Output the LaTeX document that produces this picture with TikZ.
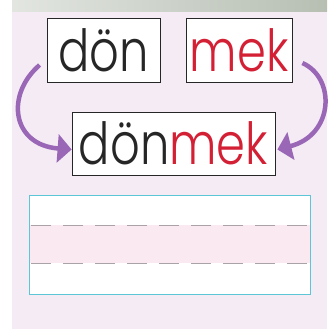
\documentclass[tikz,border=0pt]{standalone}
\usepackage{fontspec}
\setmainfont{Poppins}[UprightFont=* Light, FakeStretch=0.8]
\usepackage{xcolor}
\usepackage{tikz}
\usetikzlibrary{arrows.meta}

\definecolor{panelbg}{HTML}{F4EBF4}
\definecolor{photogray}{HTML}{B7BFB3}
\definecolor{wordred}{HTML}{D42035}
\definecolor{arrowpurple}{HTML}{9A67B7}
\definecolor{linecyan}{HTML}{5CC6D6}
\definecolor{bandpink}{HTML}{FBE9F1}
\definecolor{dashgray}{HTML}{A9A2A6}

\begin{document}
\begin{tikzpicture}[
  x=1pt, y=-1pt,
  word/.style={draw=black!85, line width=0.8pt, fill=white, inner sep=0pt,
    font=\fontsize{58}{58}\selectfont, text=black!85},
  joinarrow/.style={draw=arrowpurple, line width=4.5pt,
    -{Triangle[length=14pt,width=28pt]}},
  guide/.style={dashgray, line width=1pt, dash pattern=on 20pt off 12pt}
]
\useasboundingbox (0,0) rectangle (327,329);
% Page background: photo strip on top, lilac panel below
\fill[left color=photogray!40, right color=photogray] (12,0) rectangle (327,12);
\fill[panelbg] (12,12) rectangle (327,329);

% Word cards
\node[word, minimum width=113pt, minimum height=64pt] (don) at (103.5,50) {dön};
\node[word, minimum width=106pt, minimum height=64pt, text=wordred] (mek) at (239,50) {mek};
\node[word, minimum width=203pt, minimum height=63pt] (donmek) at (173.5,143.5)
  {dön\textcolor{wordred}{mek}};

% Arrows joining the two parts
\draw[joinarrow] ([xshift=-7pt,yshift=-15pt]don.west)
  .. controls (5,95) and (12,145) .. ([yshift=-6pt]donmek.west);
\draw[joinarrow] ([xshift=10pt,yshift=-13pt]mek.east)
  .. controls (336,78) and (334,135) .. ([xshift=2pt,yshift=-6pt]donmek.east);

% Writing lines
\fill[white] (29,195) rectangle (310,294);
\fill[bandpink] (29,225) rectangle (310,263);
\draw[guide] (31,225) -- (310,225);
\draw[guide] (31,263) -- (310,263);
\draw[linecyan, line width=1pt] (29,195) rectangle (310,294);
\end{tikzpicture}
\end{document}
